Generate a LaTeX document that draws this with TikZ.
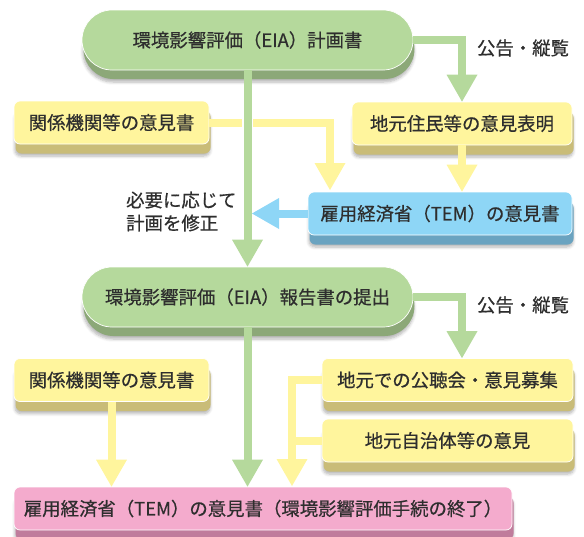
\documentclass[tikz,border=0pt]{standalone}
\usepackage{fontspec}
\setmainfont{Noto Sans CJK JP}[FakeBold=0.6]
\usetikzlibrary{arrows.meta,shadows,shadows.blur}
\definecolor{gface}{HTML}{B5D99C}
\definecolor{gshad}{HTML}{8CA878}
\definecolor{yface}{HTML}{FFF59D}
\definecolor{yshad}{HTML}{C9BC78}
\definecolor{bface}{HTML}{8ED6F6}
\definecolor{bshad}{HTML}{6AA3C0}
\definecolor{pface}{HTML}{F4ABCD}
\definecolor{pshad}{HTML}{C07C9C}
\definecolor{txt}{HTML}{2E2E2E}
\tikzset{
  base/.style={inner sep=0pt, text=txt, font=\fontsize{18.4}{22}\selectfont,
    draw=white, line width=0.7pt,
    blur shadow={shadow xshift=1pt, shadow yshift=-12pt, shadow blur radius=3pt,
      shadow blur steps=6, shadow opacity=30}},
  pill/.style={base, fill=gface, rounded corners=30pt, minimum width=331pt,
    minimum height=60pt, general shadow={fill=gshad, shadow xshift=1.5pt, shadow yshift=-9pt}},
  ybox/.style={base, fill=yface, rounded corners=6pt, minimum height=43pt,
    general shadow={fill=yshad, shadow xshift=1.5pt, shadow yshift=-9.5pt}},
  bbox/.style={base, fill=bface, rounded corners=6pt, minimum height=43pt,
    general shadow={fill=bshad, shadow xshift=1.5pt, shadow yshift=-9.5pt}},
  pbox/.style={base, fill=pface, rounded corners=6pt, minimum height=43pt,
    general shadow={fill=pshad, shadow xshift=1.5pt, shadow yshift=-9.5pt}},
  lbl/.style={inner sep=0pt, text=txt, font=\fontsize{18.4}{23}\selectfont},
  ar/.style={-{Triangle[length=27pt,width=31pt,line width=0pt]}},
  gln/.style={draw=gface, line width=8pt, ar},
  yln/.style={draw=yface, line width=8pt},
  bln/.style={draw=bface, line width=8pt, ar},
  gap/.style={draw=white, line width=11pt},
}
\begin{document}
\begin{tikzpicture}[x=1pt,y=-1pt]
\useasboundingbox (0,0) rectangle (584,536);
% nodes
\node[pill] (p1) at (247.5,40) {環境影響評価（EIA）計画書};
\node[ybox, minimum width=195pt] (y1) at (111.5,122.5) {関係機関等の意見書};
\node[ybox, minimum width=220pt] (y2) at (462,123.5) {地元住民等の意見表明};
\node[bbox, minimum width=264pt] (b) at (440,213.5) {雇用経済省（TEM）の意見書};
\node[pill] (p2) at (247.5,297) {環境影響評価（EIA）報告書の提出};
\node[ybox, minimum width=195pt] (y3) at (111.5,380) {関係機関等の意見書};
\node[ybox, minimum width=251pt] (y4) at (447.5,380) {地元での公聴会・意見募集};
\node[ybox, minimum width=251pt] (y5) at (447.5,440.5) {地元自治体等の意見};
\node[pbox, minimum width=498pt] (pk) at (263,508.5) {雇用経済省（TEM）の意見書（環境影響評価手続の終了）};
% labels
\node[lbl] (k1) at (523,48) {公告・縦覧};
\node[lbl] (k2) at (523,305) {公告・縦覧};
\node[lbl, align=left, anchor=west] (k3) at (126,211.5) {必要に応じて\\計画を修正};
% coordinates
\coordinate (bt) at (252,213.5);
\coordinate (m) at (292,486);
\coordinate (ya) at (330,190);
\coordinate (cx) at (p1.south |- y1.east);
% connectors
\draw[yln, ar] (y1.east) -| (ya);
\draw[gap] ([yshift=6pt]cx) -- ([yshift=-6pt]cx);
\draw[gln] (p1.south) -- (p2.north);
\draw[gln] (p1.east) -| (y2.north);
\draw[yln, ar] (y2.south) -- (y2.south |- b.north);
\draw[bln] (b.west) -- (bt);
\draw[gln] (p2.east) -| (y2.south |- y4.north);
\draw[gln] (p2.south) -- (p2.south |- pk.north);
\draw[yln, ar] (y3.south) -- (y3.south |- pk.north);
\draw[yln, ar] (y4.west) -| (m);
\draw[yln] (y5.west) -- (y5.west -| m);
\end{tikzpicture}
\end{document}
